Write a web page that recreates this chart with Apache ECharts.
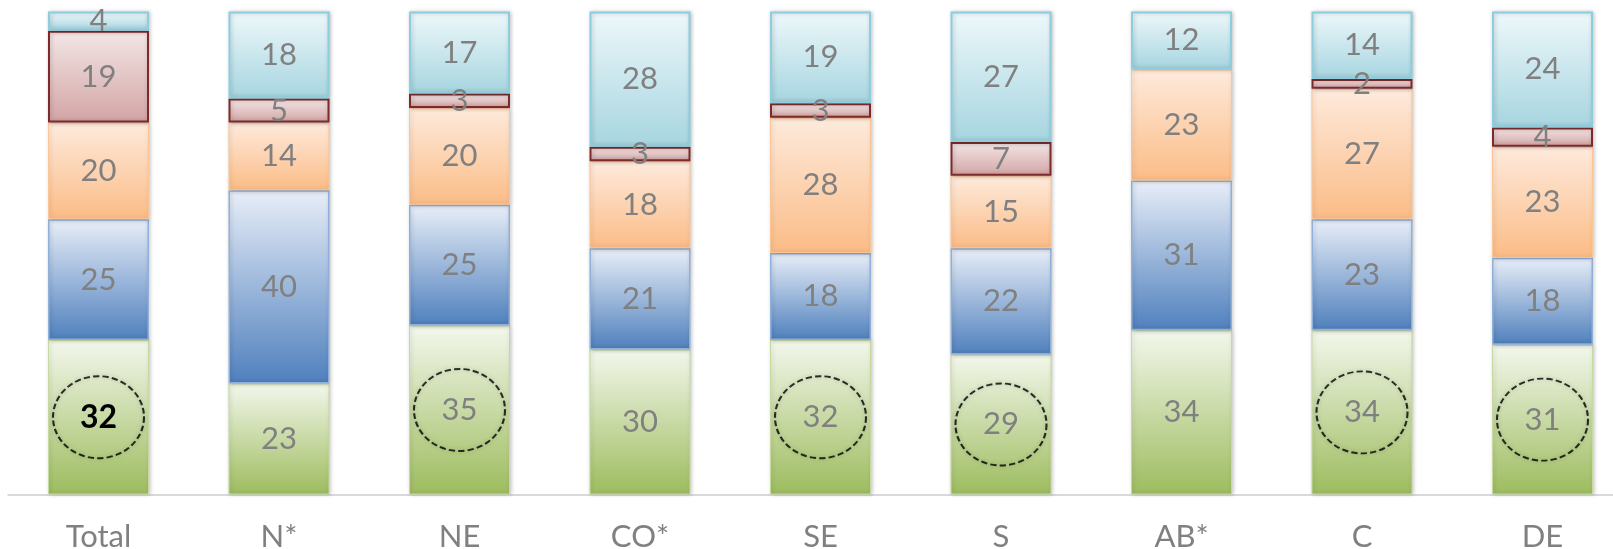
<!DOCTYPE html>
<html style="height: 100%">
<head>
<meta charset="utf-8"/>
<script src="https://cdn.jsdelivr.net/npm/echarts@6/dist/echarts.min.js"></script>
</head>
<body style="height: 100%; margin: 0; background: #fff">
<div id="container" style="width: 1613px; height: 549px"></div>
<script>
// categories and the five stacked shares (bottom to top)
var categories = ['Total', 'N*', 'NE', 'CO*', 'SE', 'S', 'AB*', 'C', 'DE'];
var greenVals  = [32, 23, 35, 30, 32, 29, 34, 34, 31];
var blueVals   = [25, 40, 25, 21, 18, 22, 31, 23, 18];
var orangeVals = [20, 14, 20, 18, 28, 15, 23, 27, 23];
var mauveVals  = [19, 5, 3, 3, 3, 7, 0, 2, 4];
var cyanVals   = [4, 18, 17, 28, 19, 27, 12, 14, 24];
// categories whose bottom value is circled
var circled = ['Total', 'NE', 'SE', 'S', 'C', 'DE'];

function grad(top, bottom) {
	return new echarts.graphic.LinearGradient(0, 0, 0, 1, [
		{offset: 0, color: top},
		{offset: 1, color: bottom}
	]);
}

var labelStyle = {
	show: true,
	position: 'inside',
	color: '#808080',
	fontFamily: 'Lato',
	fontSize: 31,
	formatter: function (p) { return p.value ? p.value : ''; }
};

function makeBar(name, vals, top, bottom, border, bw) {
	return {
		name: name,
		type: 'bar',
		stack: 'all',
		barWidth: 101,
		data: vals.map(function (v, i) {
			if (v === 0) return null;
			if (name === 'g' && i === 0) {
				return {value: v, label: {color: '#000', fontWeight: 'bold', fontSize: 32}};
			}
			return v;
		}),
		label: labelStyle,
		itemStyle: {
			color: grad(top, bottom),
			borderColor: border,
			borderWidth: bw,
			shadowBlur: 4,
			shadowColor: 'rgba(0,0,0,0.22)',
			shadowOffsetX: 1
		},
		z: 2
	};
}

var myChart = echarts.init(document.getElementById('container'));

var option = {
	animation: false,
	grid: {left: 8.25, top: 11.5, width: 1624.5, height: 483, outerBoundsMode: 'none', containLabel: false},
	xAxis: {
		type: 'category',
		data: categories,
		axisTick: {show: false},
		axisLine: {lineStyle: {color: '#d9d9d9', width: 2}},
		axisLabel: {color: '#808080', fontFamily: 'Lato', fontSize: 31, margin: 27}
	},
	yAxis: {
		type: 'value',
		min: 0,
		max: 100,
		show: false
	},
	series: [
		makeBar('g', greenVals, '#f3f7ec', '#9dbc5e', '#c5d9a0', 1),
		makeBar('b', blueVals, '#e8eef8', '#4f80bd', '#8fb0da', 1.5),
		makeBar('o', orangeVals, '#feeadc', '#fbbc86', '#fbc596', 1),
		makeBar('m', mauveVals, '#f3e6e6', '#d3a4a4', '#7f2a2a', 2),
		makeBar('c', cyanVals, '#eef8fa', '#a6d5e0', '#8ccddf', 2),
		{
			type: 'scatter',
			symbol: 'circle',
			symbolSize: [91, 82],
			data: circled.map(function (c) {
				return [c, greenVals[categories.indexOf(c)] / 2];
			}),
			itemStyle: {
				color: 'rgba(0,0,0,0)',
				borderColor: '#000',
				borderWidth: 2,
				borderType: [6, 3],
				shadowBlur: 4,
				shadowColor: 'rgba(0,0,0,0.25)'
			},
			silent: true,
			z: 5
		}
	]
};

myChart.setOption(option);
window.onresize = myChart.resize;
</script>
</body>
</html>
